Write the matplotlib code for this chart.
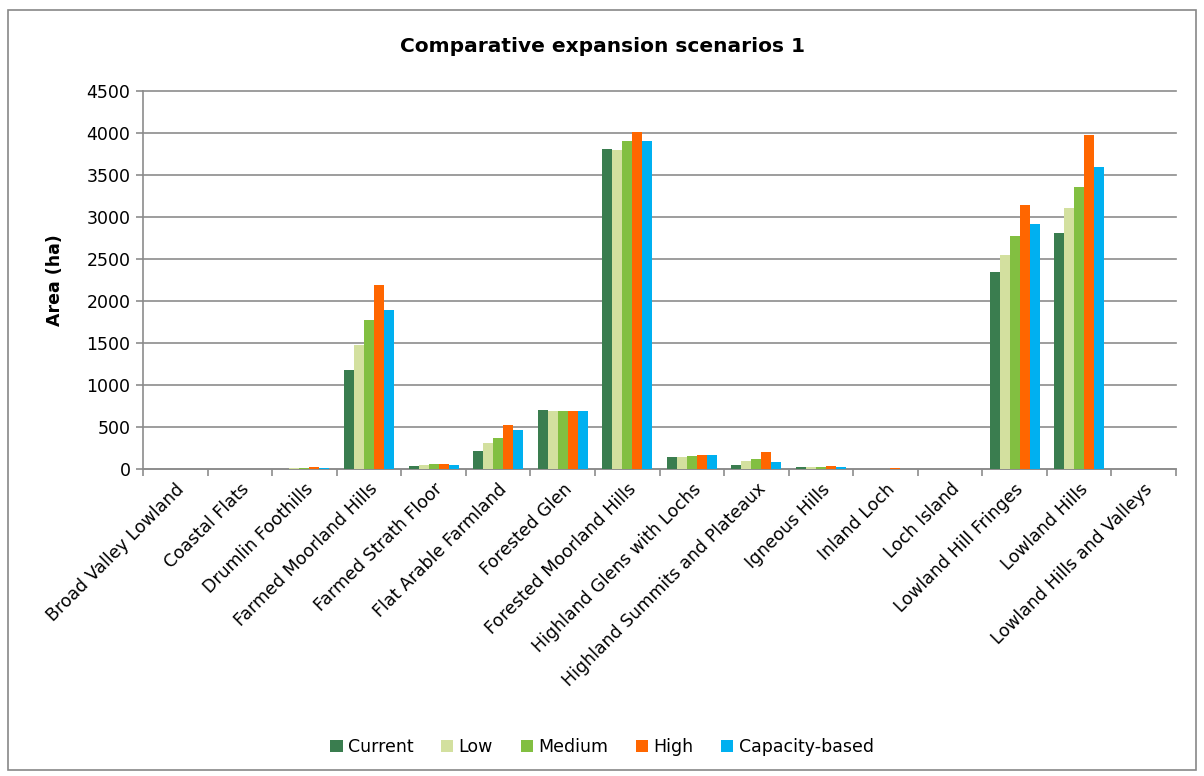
import matplotlib
matplotlib.use("Agg")
import matplotlib.pyplot as plt
import numpy as np
from matplotlib.patches import Rectangle

categories = ['Broad Valley Lowland', 'Coastal Flats', 'Drumlin Foothills',
              'Farmed Moorland Hills', 'Farmed Strath Floor', 'Flat Arable Farmland',
              'Forested Glen', 'Forested Moorland Hills', 'Highland Glens with Lochs',
              'Highland Summits and Plateaux', 'Igneous Hills', 'Inland Loch',
              'Loch Island', 'Lowland Hill Fringes', 'Lowland Hills',
              'Lowland Hills and Valleys']

current = [0, 0, 3, 1175, 40, 211, 702, 3810, 147, 48, 25, 5, 0, 2345, 2815, 0]
low = [0, 0, 8, 1480, 50, 306, 687, 3800, 147, 95, 20, 5, 0, 2550, 3105, 0]
medium = [0, 0, 12, 1775, 55, 369, 690, 3905, 155, 123, 27, 5, 0, 2775, 3360, 0]
high = [4, 0, 20, 2190, 65, 527, 695, 4010, 167, 198, 32, 8, 0, 3145, 3975, 0]
capacity = [0, 0, 10, 1895, 45, 464, 690, 3900, 165, 80, 28, 5, 0, 2915, 3600, 0]

series_names = ['Current', 'Low', 'Medium', 'High', 'Capacity-based']
colors = ['#3A7D4F', '#D3E09F', '#82BF41', '#FF6600', '#00B0F0']

fig = plt.figure(figsize=(12.04, 7.76), dpi=100)
fig.patches.append(Rectangle((8 / 1204, 6 / 776), 1188 / 1204, 760 / 776,
                             transform=fig.transFigure, fill=False,
                             edgecolor='#888888', linewidth=1.2))

ax = fig.add_axes([143 / 1204, 1 - 469 / 776, 1033 / 1204, 378 / 776])

x = np.arange(len(categories))
w = 0.155
data = [current, low, medium, high, capacity]
for i, (vals, name, c) in enumerate(zip(data, series_names, colors)):
    ax.bar(x + (i - 2) * w, vals, width=w, color=c, label=name, zorder=3)

ax.set_xlim(-0.5, len(categories) - 0.5)
ax.set_ylim(0, 4500)
ax.set_yticks(np.arange(0, 4501, 500))
ax.yaxis.grid(True, color='#8c8c8c', linewidth=1.2, zorder=0)
ax.set_axisbelow(True)
for gl in ax.get_ygridlines():
    gl.set_clip_on(False)

ax.set_xticks(np.arange(-0.5, len(categories), 1))
ax.set_xticklabels([])
ax.set_xticks(x, minor=True)
ax.set_xticklabels(categories, minor=True, rotation=45, ha='right',
                   rotation_mode='anchor', fontsize=12.5)
ax.tick_params(axis='x', which='minor', length=0, pad=8)
ax.tick_params(axis='x', which='major', length=5, color='#8c8c8c', width=1.2)
ax.tick_params(axis='y', length=5, color='#8c8c8c', width=1.2, labelsize=12.5, pad=4)

for s in ['top', 'right']:
    ax.spines[s].set_visible(False)
for s in ['left', 'bottom']:
    ax.spines[s].set_color('#8c8c8c')
    ax.spines[s].set_linewidth(1.2)

ax.set_ylabel('Area (ha)', fontsize=12.5, fontweight='bold', labelpad=16)
fig.text(0.5, 1 - 47 / 776, 'Comparative expansion scenarios 1', ha='center',
         va='center', fontsize=14.5, fontweight='bold')

fig.legend(loc='center', bbox_to_anchor=(0.5, 1 - 747 / 776), ncol=5,
           frameon=False, fontsize=12.5, handlelength=0.7, handleheight=0.7,
           handletextpad=0.3, columnspacing=1.6)

fig.savefig('out.png', dpi=100)
